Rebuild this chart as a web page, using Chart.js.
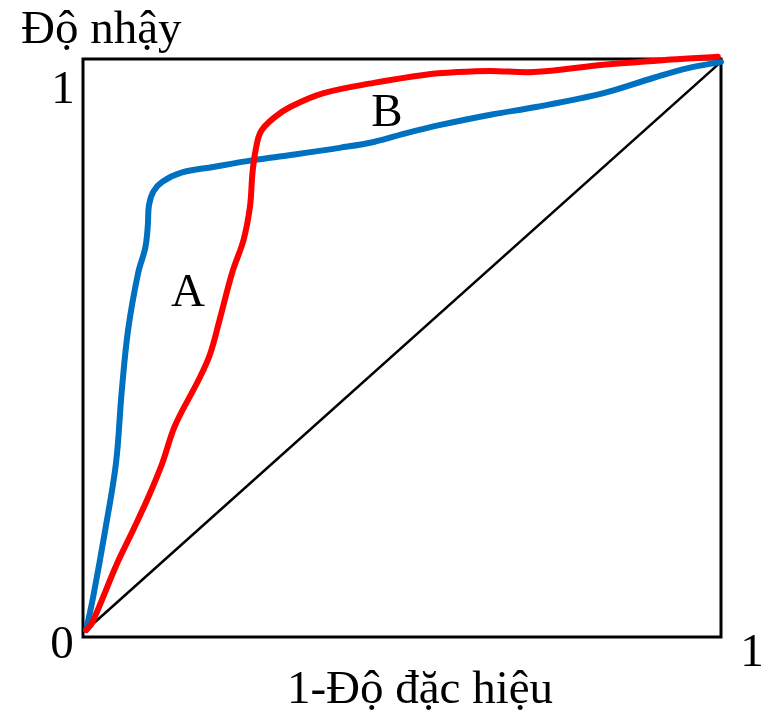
<!DOCTYPE html>
<html>
<head>
<meta charset="utf-8">
<script src="https://cdn.jsdelivr.net/npm/chart.js@4"></script>
<style>
html,body{margin:0;padding:0;background:#fff;}
#wrap{width:765px;height:711px;}
</style>
</head>
<body>
<div id="wrap"><canvas id="c" width="765" height="711"></canvas></div>
<script>
// Curve A (blue) : 1-specificity (x) vs sensitivity (y)
const blueX = [0, 0.011, 0.030, 0.047, 0.056, 0.066, 0.082, 0.093, 0.097, 0.099, 0.106, 0.120, 0.150, 0.200, 0.263, 0.322, 0.401, 0.453, 0.506, 0.558, 0.637, 0.711, 0.815, 0.894, 0.948, 1.0];
const blueY = [0, 0.058, 0.176, 0.294, 0.420, 0.528, 0.629, 0.672, 0.710, 0.748, 0.772, 0.789, 0.805, 0.815, 0.827, 0.836, 0.849, 0.859, 0.875, 0.889, 0.907, 0.921, 0.945, 0.972, 0.989, 1.0];
// Curve B (red)
const redX = [0, 0.009, 0.049, 0.074, 0.098, 0.120, 0.140, 0.177, 0.195, 0.210, 0.230, 0.248, 0.258, 0.262, 0.267, 0.275, 0.295, 0.322, 0.374, 0.453, 0.532, 0.585, 0.637, 0.705, 0.815, 0.921, 0.995];
const redY = [0, 0.012, 0.118, 0.176, 0.234, 0.294, 0.360, 0.440, 0.485, 0.545, 0.629, 0.687, 0.745, 0.805, 0.845, 0.877, 0.901, 0.921, 0.945, 0.963, 0.977, 0.982, 0.984, 0.982, 0.995, 1.004, 1.009];
// Reference diagonal
const diagX = [0, 1];
const diagY = [0, 1];

const yAxisTitle = "Độ nhậy";
const xAxisTitle = "1-Độ đặc hiệu";
const yTickLabels = ["0", "1"];
const xTickLabels = ["1"];
const curveLabels = ["A", "B"];

function pts(xs, ys){ return xs.map((x,i)=>({x:x, y:ys[i]})); }

const FONT = '47px "Liberation Serif", "Times New Roman", serif';

const overlay = {
  id: 'overlay',
  beforeDatasetsDraw(chart){
    const {ctx, chartArea:a} = chart;
    ctx.save();
    ctx.strokeStyle = '#000';
    ctx.lineWidth = 3;
    ctx.strokeRect(a.left, a.top, a.right - a.left, a.bottom - a.top);
    ctx.restore();
  },
  afterDraw(chart){
    const {ctx} = chart;
    ctx.save();
    ctx.fillStyle = '#000';
    ctx.font = FONT;
    ctx.textBaseline = 'alphabetic';
    ctx.textAlign = 'left';
    ctx.fillText(yAxisTitle, 21, 43);
    ctx.textAlign = 'center';
    ctx.fillText(yTickLabels[1], 63, 103);
    ctx.fillText(yTickLabels[0], 62, 658);
    ctx.fillText(xTickLabels[0], 752, 666);
    ctx.fillText(xAxisTitle, 420, 703);
    ctx.fillText(curveLabels[0], 188, 306);
    ctx.fillText(curveLabels[1], 387, 126);
    ctx.restore();
  }
};

new Chart(document.getElementById('c'), {
  type: 'scatter',
  data: {
    datasets: [
      { label: 'B', data: pts(redX, redY), showLine: true, borderColor: '#FF0000', borderWidth: 6, pointRadius: 0, tension: 0.35, clip: false, order: 1, borderCapStyle: 'round', borderJoinStyle: 'round' },
      { label: 'A', data: pts(blueX, blueY), showLine: true, borderColor: '#0070C0', borderWidth: 6, pointRadius: 0, tension: 0.35, clip: false, order: 2, borderCapStyle: 'round', borderJoinStyle: 'round' },
      { label: 'diag', data: pts(diagX, diagY), showLine: true, borderColor: '#000', borderWidth: 2.5, pointRadius: 0, tension: 0, clip: false, order: 3 }
    ]
  },
  options: {
    responsive: false,
    animation: false,
    layout: { padding: { left: 83, top: 59, right: 44, bottom: 74 } },
    plugins: { legend: { display: false }, tooltip: { enabled: false } },
    scales: {
      x: { type: 'linear', min: -0.005, max: 1.0, display: false },
      y: { type: 'linear', min: -0.0123, max: 1.005, display: false }
    }
  },
  plugins: [overlay]
});
</script>
</body>
</html>
